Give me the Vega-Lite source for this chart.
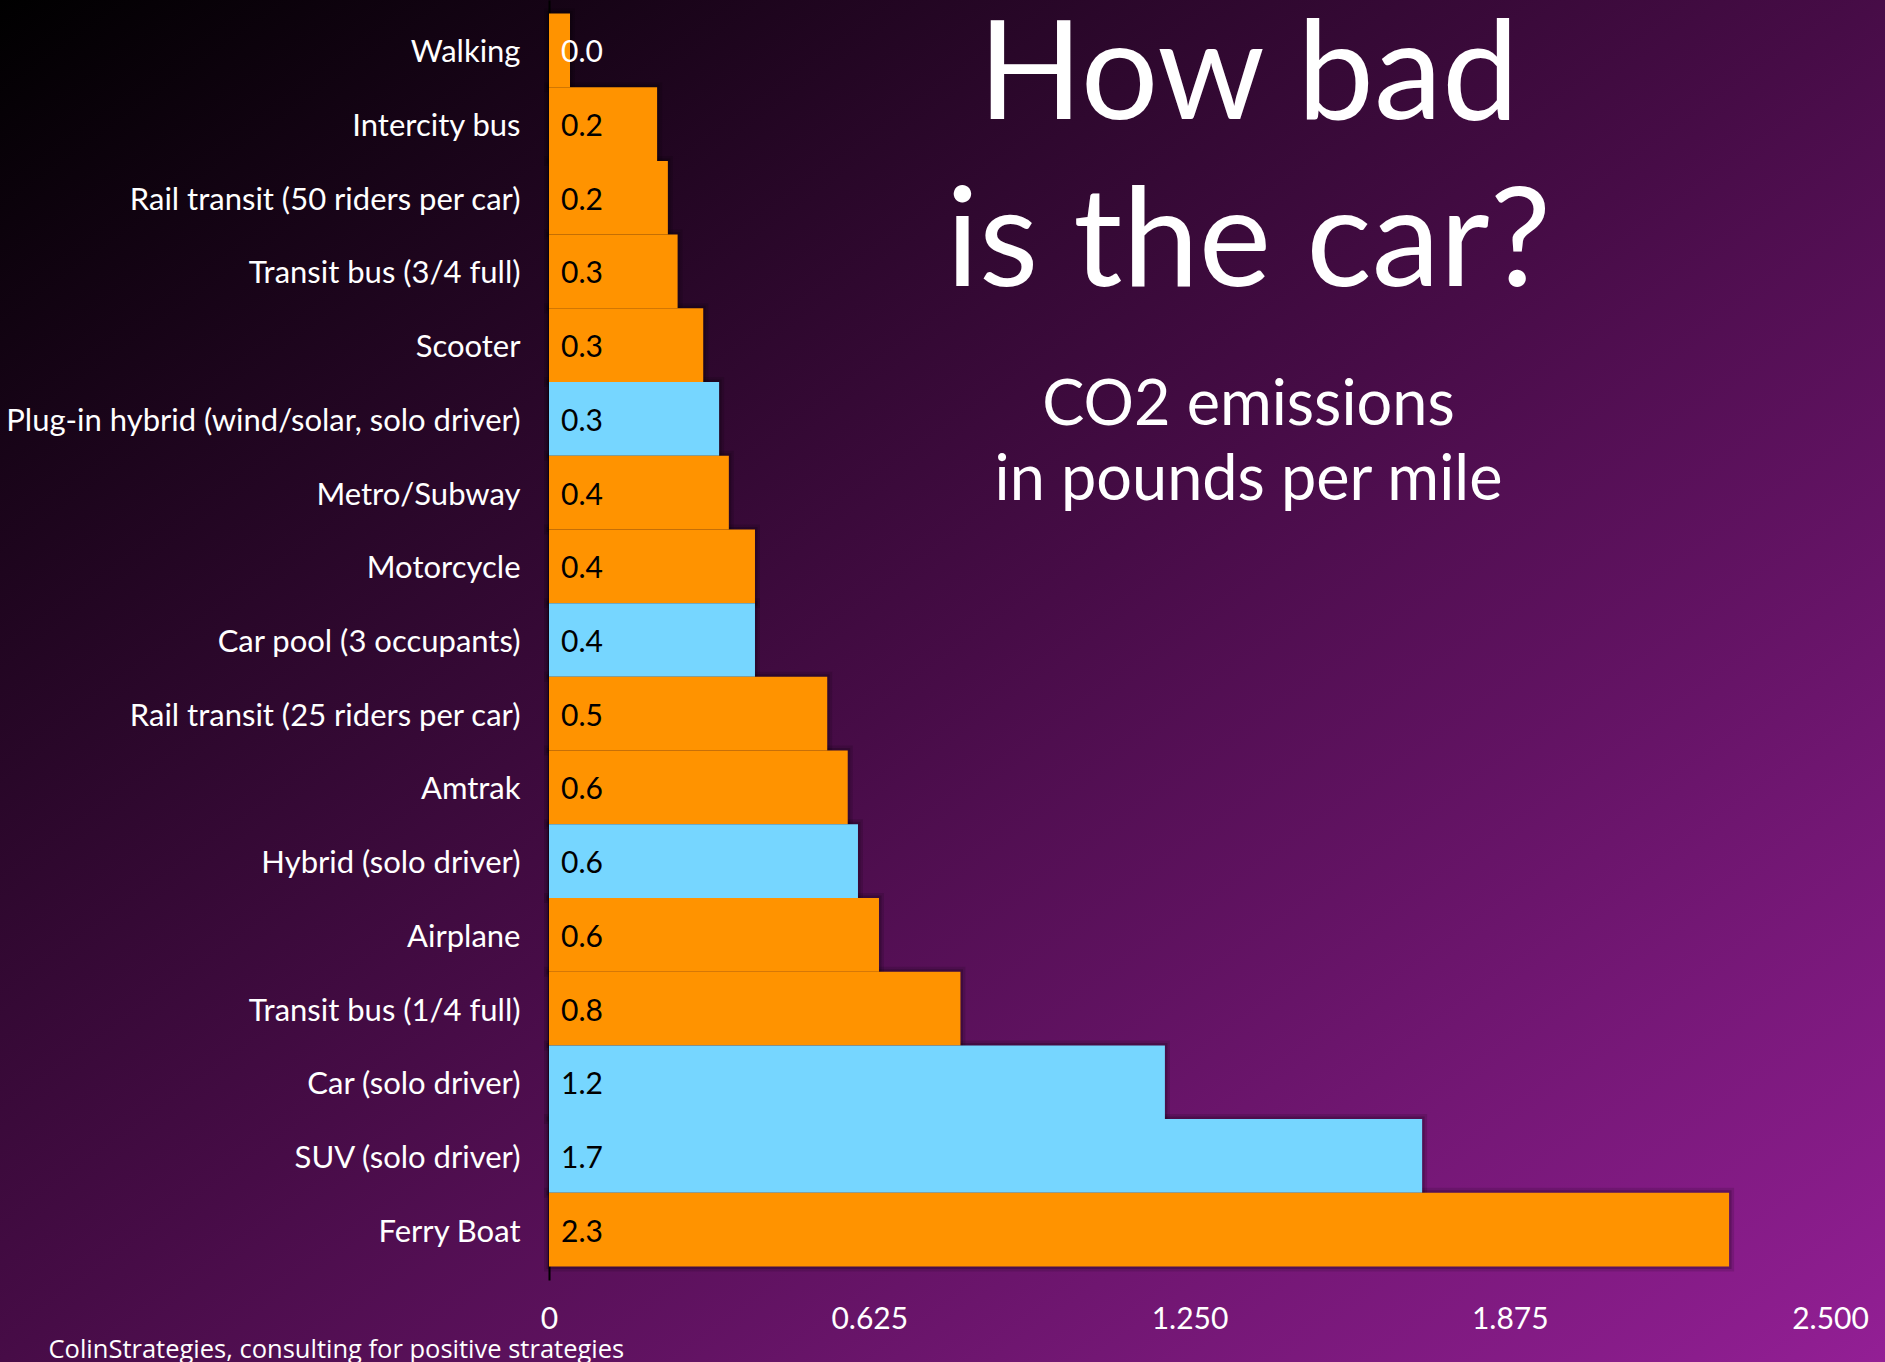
{
  "$schema": "https://vega.github.io/schema/vega-lite/v6.json",
  "width": 1885,
  "height": 1362,
  "autosize": {"type": "none"},
  "padding": 0,
  "background": "#470c47",
  "view": {
    "stroke": null,
    "fill": {
      "gradient": "linear", "x1": 0, "y1": 0, "x2": 1, "y2": 1,
      "stops": [
        {"offset": 0, "color": "#000000"},
        {"offset": 0.5, "color": "#470c47"},
        {"offset": 1, "color": "#931f95"}
      ]
    }
  },
  "config": {"font": "Lato"},
  "title": {
    "text": ["How bad", "is the car?"],
    "subtitle": ["CO2 emissions", "in pounds per mile"],
    "frame": "group",
    "anchor": "middle",
    "orient": "top",
    "offset": 0,
    "dx": 306,
    "dy": 515,
    "font": "Lato",
    "fontSize": 137,
    "fontWeight": "normal",
    "color": "white",
    "lineHeight": 167,
    "subtitleFont": "Lato",
    "subtitleFontSize": 63,
    "subtitleColor": "white",
    "subtitleLineHeight": 75,
    "subtitlePadding": 60
  },
  "data": {
    "values": [
      {"mode": "Walking", "co2": 0.041, "kind": "other"},
      {"mode": "Intercity bus", "co2": 0.211, "kind": "other"},
      {"mode": "Rail transit (50 riders per car)", "co2": 0.232, "kind": "other"},
      {"mode": "Transit bus (3/4 full)", "co2": 0.251, "kind": "other"},
      {"mode": "Scooter", "co2": 0.301, "kind": "other"},
      {"mode": "Plug-in hybrid (wind/solar, solo driver)", "co2": 0.332, "kind": "car"},
      {"mode": "Metro/Subway", "co2": 0.351, "kind": "other"},
      {"mode": "Motorcycle", "co2": 0.402, "kind": "other"},
      {"mode": "Car pool (3 occupants)", "co2": 0.402, "kind": "car"},
      {"mode": "Rail transit (25 riders per car)", "co2": 0.543, "kind": "other"},
      {"mode": "Amtrak", "co2": 0.583, "kind": "other"},
      {"mode": "Hybrid (solo driver)", "co2": 0.603, "kind": "car"},
      {"mode": "Airplane", "co2": 0.644, "kind": "other"},
      {"mode": "Transit bus (1/4 full)", "co2": 0.803, "kind": "other"},
      {"mode": "Car (solo driver)", "co2": 1.202, "kind": "car"},
      {"mode": "SUV (solo driver)", "co2": 1.704, "kind": "car"},
      {"mode": "Ferry Boat", "co2": 2.303, "kind": "other"}
    ]
  },
  "encoding": {
    "y": {
      "field": "mode",
      "type": "nominal",
      "sort": null,
      "scale": {"range": [0, 1280], "paddingInner": 0, "paddingOuter": 0.183},
      "axis": {
        "title": null,
        "offset": -549,
        "domain": true,
        "domainColor": "#000000",
        "domainWidth": 2,
        "ticks": false,
        "labelPadding": 29,
        "labelOffset": 3,
        "labelFont": "Lato",
        "labelFontSize": 31,
        "labelColor": "white",
        "labelLimit": 700
      }
    },
    "x": {
      "field": "co2",
      "type": "quantitative",
      "scale": {"domain": [-1.0714, 2.6073], "nice": false, "zero": false},
      "axis": {
        "values": [0, 0.625, 1.25, 1.875, 2.5],
        "labelExpr": "datum.value == 0 ? '0' : format(datum.value, '.3f')",
        "grid": false,
        "domain": false,
        "ticks": false,
        "tickSize": 0,
        "offset": -62,
        "labelPadding": 4,
        "labelBaseline": "top",
        "labelFont": "Lato",
        "labelFontSize": 30,
        "labelColor": "white",
        "labelOverlap": false,
        "title": "ColinStrategies, consulting for positive strategies",
        "titleFont": "Open Sans",
        "titleFontSize": 25.5,
        "titleFontWeight": "normal",
        "titleColor": "white",
        "titleAnchor": "start",
        "titleAlign": "left",
        "titleBaseline": "alphabetic",
        "titleX": 48,
        "titleY": 57
      }
    }
  },
  "layer": [
    {
      "mark": {"type": "bar", "fill": null, "stroke": "#000000", "strokeWidth": 10, "strokeOpacity": 0.12},
      "encoding": {"x2": {"datum": 0}}
    },
    {
      "mark": {"type": "bar", "fill": null, "stroke": "#000000", "strokeWidth": 5, "strokeOpacity": 0.18},
      "encoding": {"x2": {"datum": 0}}
    },
    {
      "mark": {"type": "bar"},
      "encoding": {
        "x2": {"datum": 0},
        "color": {
          "field": "kind",
          "type": "nominal",
          "scale": {"domain": ["other", "car"], "range": ["#FF9300", "#76D6FF"]},
          "legend": null
        }
      }
    },
    {
      "mark": {"type": "text", "align": "left", "baseline": "middle", "dx": 12, "dy": 3, "fontSize": 30, "font": "Lato"},
      "encoding": {
        "x": {"datum": 0},
        "text": {"field": "co2", "type": "quantitative", "format": ".1f"},
        "color": {"condition": {"test": "datum.co2 < 0.1", "value": "white"}, "value": "black"}
      }
    }
  ]
}
